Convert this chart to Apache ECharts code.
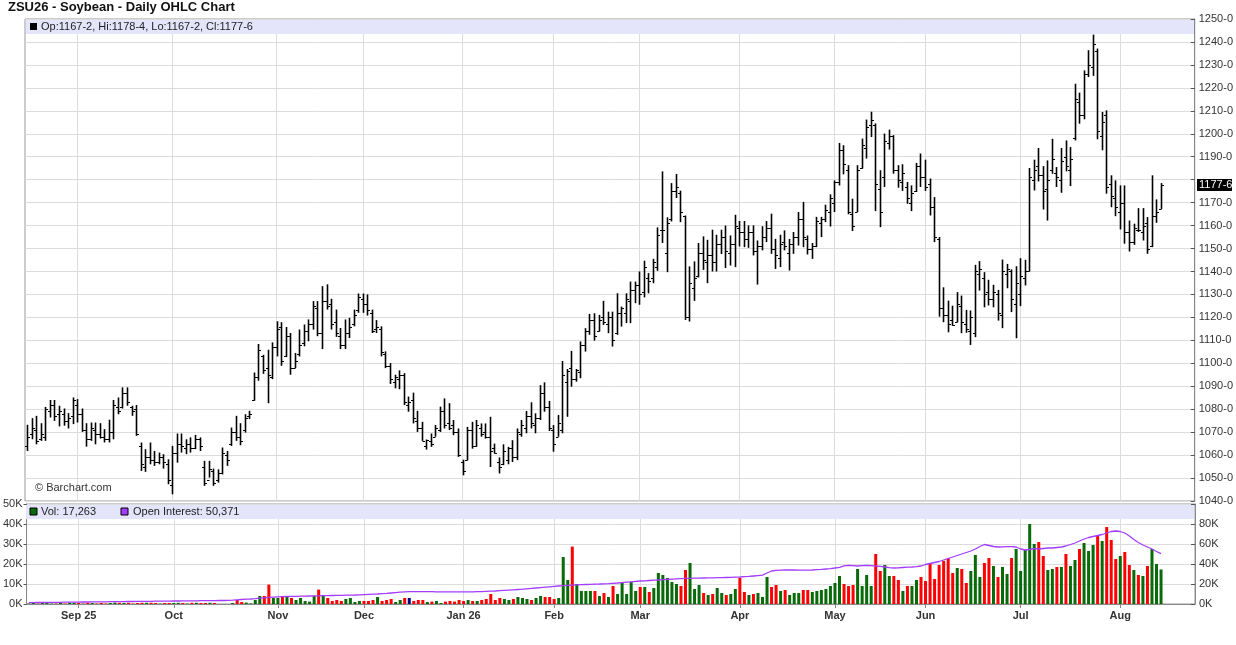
<!DOCTYPE html>
<html><head><meta charset="utf-8">
<script src="https://cdn.jsdelivr.net/npm/echarts@6/dist/echarts.min.js"></script>
<style>html,body{margin:0;padding:0;background:#fff}#c{width:1236px;height:645px}</style>
</head><body><div id="c"></div><script>
// ---- DATA (cents/bushel) ----
const opens = [
1064,1069,1071,1067,1068,1079,1082,1078,1078,1075,
1077,1082,1078,1071,1067,1071,1069,1068,1067,1070,
1081,1081,1087,1081,1080,1064,1055,1059,1058,1057,
1059,1056,1047,1061,1065,1063,1065,1063,1067,1055,
1049,1053,1049,1052,1060,1065,1070,1068,1071,1077,
1084,1094,1103,1098,1094,1107,1116,1103,1112,1098,
1104,1109,1114,1117,1124,1113,1127,1126,1118,1112,
1108,1113,1117,1123,1128,1126,1122,1115,1115,1104,
1099,1092,1093,1095,1082,1084,1075,1072,1064,1066,
1068,1071,1079,1074,1073,1070,1057,1058,1071,1064,
1072,1070,1068,1063,1057,1056,1058,1063,1059,1069,
1072,1077,1073,1076,1087,1081,1071,1068,1071,1092,
1098,1093,1096,1108,1114,1119,1114,1120,1117,1120,
1113,1122,1122,1127,1132,1134,1131,1137,1137,1142,
1158,1148,1163,1175,1174,1164,1120,1133,1138,1148,
1144,1147,1144,1152,1155,1148,1152,1159,1157,1154,
1157,1149,1151,1155,1159,1150,1146,1153,1148,1152,
1155,1163,1154,1150,1151,1161,1163,1166,1170,1179,
1193,1184,1165,1166,1185,1194,1204,1204,1176,1181,
1196,1199,1184,1179,1177,1170,1175,1186,1181,1178,
1168,1154,1124,1121,1119,1118,1125,1117,1114,1113,
1139,1137,1131,1128,1130,1121,1139,1140,1126,1130,
1137,1140,1180,1186,1182,1176,1184,1183,1180,1190,
1184,1198,1214,1208,1226,1229,1236,1199,1208,1178,
1172,1166,1170,1157,1153,1158,1157,1161,1151,1164,
1167.25];
const highs = [
1073.2,1076.1,1077.1,1073.9,1081.0,1084.0,1084.0,1081.5,1080.3,1078.3,
1085.1,1084.4,1080.3,1073.9,1074.2,1074.2,1073.9,1071.3,1075.4,1084.0,
1085.1,1089.5,1089.5,1081.5,1081.8,1065.5,1062.6,1065.5,1061.8,1061.1,
1060.4,1058.2,1064.0,1069.4,1069.4,1066.9,1067.7,1068.8,1067.7,1057.5,
1057.5,1054.1,1053.8,1063.3,1061.8,1072.0,1077.1,1073.9,1077.8,1079.3,
1096.0,1108.4,1103.7,1105.9,1109.1,1118.3,1117.9,1115.8,1113.2,1104.5,
1114.7,1116.9,1119.1,1127.1,1127.1,1133.6,1134.4,1128.1,1123.4,1115.4,
1119.1,1119.8,1123.4,1130.4,1130.4,1130.0,1123.4,1118.8,1116.1,1105.2,
1100.1,1095.0,1096.9,1095.7,1085.5,1087.2,1079.3,1074.5,1066.8,1069.4,
1073.1,1081.1,1084.7,1082.6,1075.3,1071.6,1058.0,1072.3,1074.5,1075.3,
1073.8,1073.8,1076.7,1065.0,1059.0,1064.7,1063.6,1066.5,1071.6,1075.3,
1079.2,1083.0,1078.2,1090.5,1091.7,1083.6,1073.1,1077.5,1101.0,1097.5,
1105.4,1097.5,1109.5,1115.3,1121.5,1121.8,1121.1,1127.2,1122.5,1122.5,
1130.5,1124.7,1130.5,1135.6,1135.6,1140.0,1144.7,1139.3,1145.5,1159.2,
1183.6,1163.6,1178.5,1182.5,1175.2,1164.4,1142.2,1144.4,1152.4,1155.3,
1153.8,1158.2,1156.0,1158.2,1160.0,1155.7,1164.7,1162.0,1162.0,1160.1,
1160.1,1153.5,1159.7,1162.0,1165.2,1154.2,1156.0,1157.9,1154.2,1157.2,
1165.9,1170.3,1155.7,1152.4,1163.8,1163.8,1169.1,1173.6,1179.7,1196.0,
1195.0,1186.3,1171.7,1186.3,1197.9,1206.2,1209.6,1204.5,1184.1,1200.1,
1201.8,1199.4,1186.3,1186.7,1179.0,1177.5,1187.3,1191.4,1188.7,1180.5,
1172.4,1155.0,1133.1,1127.3,1125.1,1131.0,1129.5,1123.3,1123.0,1142.9,
1144.5,1139.7,1136.4,1134.2,1132.0,1145.2,1143.3,1140.9,1142.3,1145.8,
1145.1,1185.1,1188.7,1193.8,1185.9,1188.4,1197.8,1185.5,1193.8,1197.1,
1194.2,1221.8,1217.9,1227.6,1236.4,1243.2,1237.1,1209.5,1210.2,1181.9,
1179.7,1177.5,1177.5,1162.2,1160.8,1167.6,1167.6,1163.7,1181.9,1171.4,
1178.5];
const lows = [
1061.8,1066.9,1064.7,1066.2,1066.2,1076.4,1074.9,1072.5,1072.8,1071.6,
1073.5,1074.2,1070.1,1063.7,1066.2,1064.7,1067.2,1065.5,1065.5,1066.9,
1077.8,1080.3,1081.5,1077.1,1068.4,1053.1,1052.7,1056.0,1055.3,1056.0,
1054.1,1047.3,1042.9,1056.7,1061.1,1060.4,1061.1,1062.6,1061.8,1046.6,
1050.2,1046.6,1048.0,1051.6,1055.3,1064.0,1066.2,1064.3,1069.8,1075.7,
1083.7,1092.4,1095.4,1082.6,1093.1,1103.0,1098.9,1102.7,1095.0,1097.9,
1103.0,1107.4,1109.6,1114.7,1111.8,1106.2,1123.4,1114.7,1111.5,1106.2,
1106.2,1111.0,1116.1,1122.0,1122.0,1120.8,1113.2,1113.2,1103.0,1097.9,
1091.0,1089.1,1088.7,1081.8,1078.9,1073.8,1070.1,1066.2,1062.4,1063.6,
1068.0,1070.1,1071.6,1070.9,1068.7,1059.2,1051.2,1057.7,1062.8,1063.6,
1068.0,1067.2,1054.8,1060.7,1052.0,1055.6,1056.0,1057.0,1057.8,1068.0,
1069.5,1071.6,1069.5,1075.3,1078.9,1070.5,1061.5,1068.0,1069.5,1076.7,
1089.8,1092.0,1093.5,1105.1,1112.4,1109.9,1113.8,1116.7,1113.1,1107.3,
1112.4,1116.0,1117.5,1117.5,1126.2,1125.5,1128.7,1130.5,1134.9,1140.3,
1152.4,1139.7,1161.8,1172.0,1161.5,1118.9,1118.2,1127.2,1137.4,1140.7,
1134.9,1140.0,1140.0,1147.6,1141.5,1142.6,1141.9,1150.9,1150.6,1150.3,
1147.0,1134.3,1149.2,1152.8,1147.7,1141.1,1141.9,1149.2,1140.4,1147.7,
1151.3,1150.6,1147.4,1145.5,1150.6,1155.0,1161.5,1159.6,1165.9,1177.5,
1182.3,1164.9,1157.6,1165.9,1184.8,1189.2,1198.6,1166.3,1159.3,1176.8,
1193.1,1182.6,1176.5,1175.1,1169.5,1166.3,1174.6,1176.8,1175.1,1164.4,
1152.8,1120.3,1117.9,1113.5,1116.4,1117.9,1113.1,1113.3,1108.0,1111.4,
1131.7,1124.4,1125.2,1124.4,1118.6,1115.3,1132.7,1122.3,1110.9,1124.9,
1133.9,1140.0,1175.3,1179.2,1167.0,1162.2,1182.6,1176.8,1174.3,1183.6,
1177.2,1197.1,1204.4,1206.3,1224.7,1225.2,1197.6,1192.8,1173.9,1168.0,
1164.1,1158.3,1152.1,1148.7,1151.6,1157.2,1153.5,1147.7,1150.6,1161.2,
1167.25];
const closes = [
1068,1072,1066,1069,1080,1082,1077,1079,1075,1076,
1084,1078,1071,1067,1072,1069,1068,1067,1070,1082,
1079,1087,1083,1079,1069,1056,1059,1058,1057,1059,
1057,1049,1061,1065,1064,1065,1063,1067,1064,1048,
1054,1048,1052,1061,1058,1070,1068,1066,1076,1078,
1094,1106,1097,1095,1107,1115,1101,1112,1098,1101,
1108,1114,1117,1125,1113,1127,1125,1117,1113,1108,
1113,1116,1121,1129,1126,1123,1114,1116,1105,1099,
1093,1094,1095,1083,1083,1076,1072,1066.3,1066.6,1065,
1072,1079,1073,1072,1070,1060,1053,1071,1064,1073,
1069,1068,1062,1061,1055,1062,1063,1059,1070,1073,
1077,1074,1076,1087,1081,1072,1065,1074,1095,1096.5,
1093,1097,1108,1114,1119,1112,1119,1118,1120,1110,
1122,1124,1128,1132,1134,1130,1142,1136,1144,1156,
1158,1161,1175,1177,1166,1120,1135,1137,1148,1145,
1147,1144,1152,1155,1149,1152,1160,1157,1154,1157,
1149,1151,1155,1159,1150,1147,1152,1151,1152,1155,
1163,1155,1150,1151,1162,1163,1167,1172,1179,1193,
1187,1166,1160,1184,1195,1203,1206,1178,1166,1197,
1199,1184,1180,1183,1172,1174,1186,1181,1177,1168,
1155,1124,1121,1117,1116.5,1126,1118,1115,1120,1140,
1141,1130,1128,1131,1122,1140,1141,1128,1135,1138,
1140,1181,1184,1182,1175,1180,1189,1181,1188,1186,
1189,1215,1208,1226,1230,1239,1201,1205,1177,1173,
1168,1170,1157,1153,1159,1158,1160,1150,1164,1166,
1177.75];
const volumes = [
200,600,200,600,500,200,200,700,200,600,
600,500,200,600,500,200,500,200,500,700,
600,500,600,200,500,600,600,600,500,200,
500,500,500,600,500,200,600,600,500,500,
600,500,0,0,0,500,2000,1000,700,300,
2000,4000,4000,9700,3000,3000,3500,3500,3000,2000,
3000,1500,1200,4000,7200,4500,3000,1500,2000,1500,
2500,3000,1000,1500,1500,1500,2000,3500,1500,2000,
2500,1000,2000,3000,3000,1500,2000,2000,1000,1200,
1500,500,1200,1500,1200,2000,1500,2000,1500,1500,
2000,2500,5000,2000,3000,2500,2000,2500,3500,3000,
2500,2000,3000,4000,3500,3500,2500,3000,23500,12000,
28700,10000,6500,6500,6500,6500,4000,5500,3500,9000,
5000,10500,5000,11000,6500,8500,8500,6000,8000,15500,
14500,13000,11000,10000,9000,17000,20500,7500,9500,5500,
4500,5000,8000,5500,4500,5000,7500,13000,6000,4500,
5000,5500,3500,13500,8500,9500,6500,7000,4500,5500,
5500,7000,7000,6000,6500,7000,7500,9000,10500,14000,
10000,9000,9500,17500,9000,14500,9000,25000,16500,19500,
14000,14000,12000,6500,9000,9000,12000,13500,11500,20500,
12500,19500,21500,23000,15500,18000,17500,10500,16500,24500,
13500,20500,23000,19000,13500,18500,15000,23000,27500,16500,
27000,40000,30000,31000,24000,17000,17500,18500,18500,25000,
19000,22000,27500,30500,26500,29500,34500,31500,38500,32000,
22500,24000,26000,19500,17000,14500,14000,19000,27500,20000,
17263];
const openInterest = [
1400,1400,1500,1500,1600,1600,1700,1700,1800,1800,1900,
1900,2000,2000,2100,2100,2200,2200,2300,2300,2400,2400,2500,2500,2600,2600,2700,2700,2800,2800,2900,2900,
3000,3000,3100,3100,3200,3200,3300,3300,3400,3400,3500,3500,3600,3800,4200,4500,4800,5000,5300,5800,6200,6600,6900,
7100,7300,7500,7600,7700,7800,7900,8000,8100,8200,8300,8400,8500,8600,8700,8800,8900,9000,9200,
9400,9600,9800,10000,10300,10600,11000,11400,11800,12100,12300,12400,12400,12400,12300,12300,12200,12200,12200,12200,12100,12100,
12100,12100,12200,12300,12400,12600,12800,13000,13300,13600,13900,14200,14500,14800,15200,15600,16000,16400,16800,17200,
17600,18000,18300,18600,18900,19100,19300,19500,19700,19900,20000,20200,20400,20700,21000,21400,21800,22200,22600,
23000,23200,23500,23800,24000,24300,24600,24900,25200,25400,25600,25700,25800,25900,26000,26100,26200,26300,26400,26500,26600,26800,
27000,27300,27600,28000,28400,28800,31000,33000,33600,33800,34000,34000,34000,33900,33800,33800,34000,34300,34600,35000,35400,
36000,36600,38200,38600,38300,38000,38300,38600,38400,38000,37600,37000,36400,36000,36200,36500,36800,37000,37300,38000,
39500,40500,41500,42500,44000,45500,47000,48500,50000,51500,53000,55000,57500,59500,58500,57500,57000,57200,57300,57300,57000,
55000,54000,54500,55500,55000,55500,56000,56000,56500,57000,58000,59500,61000,63000,65000,66500,67500,68500,69500,71000,72500,73000,
72500,71000,68000,64500,61500,59000,57000,55000,52500,50371];

// trading calendar (categories)
const START_DATE = [2025, 7, 15];           // Aug 15, 2025
const HOLIDAYS = ['2025-09-01','2025-11-27','2025-12-25','2026-01-01','2026-01-19',
  '2026-02-16','2026-04-03','2026-05-25','2026-06-19','2026-07-03'];
const PAD_DAYS = 7;                          // empty space right of last bar
const MONTHS = ['Jan','Feb','Mar','Apr','May','Jun','Jul','Aug','Sep','Oct','Nov','Dec'];
const TITLE = 'ZSU26 - Soybean - Daily OHLC Chart';

function tradingDays(n) {
  const out = [];
  const d = new Date(Date.UTC(START_DATE[0], START_DATE[1], START_DATE[2]));
  while (out.length < n) {
    const s = d.toISOString().slice(0, 10);
    const wd = d.getUTCDay();
    if (wd !== 0 && wd !== 6 && HOLIDAYS.indexOf(s) < 0) out.push(s);
    d.setUTCDate(d.getUTCDate() + 1);
  }
  return out;
}
const dates = tradingDays(opens.length + PAD_DAYS);
const isMonthStart = dates.map((d, i) => i > 0 && d.slice(0, 7) !== dates[i - 1].slice(0, 7));
const firstMonthIdx = isMonthStart.indexOf(true);
function monthLabel(d, i) {
  const m = +d.slice(5, 7) - 1;
  const yy = d.slice(2, 4);
  return (i === firstMonthIdx || m === 0) ? MONTHS[m] + ' ' + yy : MONTHS[m];
}
const monthInterval = (i) => isMonthStart[i];

function fmtPrice(v) {
  const w = Math.floor(v + 1e-9);
  return w + '-' + Math.round((v - w) * 8);
}
function fmtInt(v) { return String(v).replace(/\B(?=(\d{3})+(?!\d))/g, ','); }

const GREEN = '#086a08', RED = '#ff0000', NAVY = '#000080', PURPLE = '#a33cff';
function volColor(i) {
  if (i === 0) return GREEN;
  if (closes[i] > closes[i - 1]) return GREEN;
  if (closes[i] < closes[i - 1]) return RED;
  return NAVY;
}

const ohlcData = opens.map((o, i) => [i, o, highs[i], lows[i], closes[i]]);
const volData = volumes.map((v, i) => ({ value: v, itemStyle: { color: volColor(i) } }));
const last = opens.length - 1;

function renderOHLC(params, api) {
  const i = api.value(0);
  const pO = api.coord([i, api.value(1)]);
  const pH = api.coord([i, api.value(2)]);
  const pL = api.coord([i, api.value(3)]);
  const pC = api.coord([i, api.value(4)]);
  const x = Math.round(pH[0]) + 0.5;
  const yo = Math.round(pO[1]) + 0.5, yc = Math.round(pC[1]) + 0.5;
  return { type: 'group', children: [
    { type: 'line', shape: { x1: x, y1: pH[1], x2: x, y2: pL[1] }, style: { stroke: '#000', lineWidth: 1.6 } },
    { type: 'line', shape: { x1: x - 2.5, y1: yo, x2: x, y2: yo }, style: { stroke: '#000', lineWidth: 1 } },
    { type: 'line', shape: { x1: x, y1: yc, x2: x + 2.5, y2: yc }, style: { stroke: '#000', lineWidth: 1 } }
  ]};
}

const FONT = 'Liberation Sans, Arial, sans-serif';
const chart = echarts.init(document.getElementById('c'), null, { renderer: 'canvas' });
const gridLine = { show: true, lineStyle: { color: '#dcdcdc', width: 1 } };

chart.setOption({
  animation: false,
  backgroundColor: '#fff',
  textStyle: { fontFamily: FONT },
  grid: [
    { left: 25, top: 19, width: 1170, height: 482, show: true, borderColor: '#999', borderWidth: 1, backgroundColor: '#fff' },
    { left: 25, top: 504, width: 1170, height: 100, show: true, borderColor: '#999', borderWidth: 1, backgroundColor: '#fff' }
  ],
  xAxis: [
    { type: 'category', gridIndex: 0, data: dates, boundaryGap: true,
      axisLine: { show: false }, axisTick: { show: false }, axisLabel: { show: false },
      splitLine: { show: true, interval: monthInterval, alignWithLabel: true, lineStyle: { color: '#dcdcdc' } } },
    { type: 'category', gridIndex: 1, data: dates, boundaryGap: true,
      axisLine: { show: true, lineStyle: { color: '#888' } },
      axisTick: { show: true, interval: monthInterval, alignWithLabel: true, length: 4, lineStyle: { color: '#888' } },
      axisLabel: { show: true, interval: monthInterval, formatter: monthLabel, fontFamily: FONT,
        fontSize: 11, fontWeight: 'bold', color: '#333', margin: 6 },
      splitLine: { show: true, interval: monthInterval, alignWithLabel: true, lineStyle: { color: '#dcdcdc' } } }
  ],
  yAxis: [
    { type: 'value', gridIndex: 0, position: 'right', min: 1040, max: 1250, interval: 10,
      axisLine: { show: true, lineStyle: { color: '#888' } },
      axisTick: { show: true, inside: true, length: 4, lineStyle: { color: '#555' } },
      axisLabel: { formatter: v => Math.abs(v - closes[last]) < 5 ? '' : fmtPrice(v),
        fontFamily: FONT, fontSize: 11, color: '#333', margin: 4 },
      splitLine: gridLine },
    { type: 'value', gridIndex: 1, position: 'left', min: 0, max: 50000, interval: 10000,
      axisLine: { show: true, lineStyle: { color: '#888' } },
      axisTick: { show: true, length: 3, lineStyle: { color: '#555' } },
      axisLabel: { formatter: v => (v / 1000) + 'K', fontFamily: FONT, fontSize: 11, color: '#333', margin: 4 },
      splitLine: gridLine },
    { type: 'value', gridIndex: 1, position: 'right', min: 0, max: 100000, interval: 20000,
      axisLine: { show: true, lineStyle: { color: '#888' } },
      axisTick: { show: true, inside: true, length: 4, lineStyle: { color: '#555' } },
      axisLabel: { formatter: v => v >= 100000 ? '' : (v / 1000) + 'K', fontFamily: FONT, fontSize: 11, color: '#333', margin: 4 },
      splitLine: { show: false } }
  ],
  series: [
    { type: 'custom', name: 'OHLC', xAxisIndex: 0, yAxisIndex: 0, data: ohlcData,
      encode: { x: 0, y: [1, 2, 3, 4] }, renderItem: renderOHLC, z: 3, silent: true },
    { type: 'bar', name: 'Vol', xAxisIndex: 1, yAxisIndex: 1, data: volData, barWidth: 3, z: 2, silent: true },
    { type: 'line', name: 'Open Interest', xAxisIndex: 1, yAxisIndex: 2, data: openInterest,
      symbol: 'none', lineStyle: { color: PURPLE, width: 1.3 }, z: 4, silent: true }
  ]
});

const yLast = chart.convertToPixel({ yAxisIndex: 0 }, closes[last]);
const header = 'Op:' + fmtPrice(opens[last]) + ', Hi:' + fmtPrice(highs[last]) +
  ', Lo:' + fmtPrice(lows[last]) + ', Cl:' + fmtPrice(closes[last]);

chart.setOption({
  graphic: [
    { type: 'text', left: 8, top: 1, z: 20, style: { text: TITLE, font: 'bold 13px ' + FONT, fill: '#111' } },
    { type: 'rect', shape: { x: 26, y: 20, width: 1168, height: 14 }, z: 20, style: { fill: '#e4e4fa' } },
    { type: 'rect', shape: { x: 30, y: 23, width: 7, height: 7 }, z: 21, style: { fill: '#000' } },
    { type: 'text', x: 41, y: 27, z: 21, style: { text: header, font: '11px ' + FONT, fill: '#222', verticalAlign: 'middle' } },
    { type: 'rect', shape: { x: 26, y: 505, width: 1168, height: 14 }, z: 20, style: { fill: '#e4e4fa' } },
    { type: 'rect', shape: { x: 30, y: 508, width: 7, height: 7 }, z: 21, style: { fill: GREEN, stroke: '#000', lineWidth: 1 } },
    { type: 'text', x: 41, y: 512, z: 21, style: { text: 'Vol: ' + fmtInt(volumes[last]), font: '11px ' + FONT, fill: '#222', verticalAlign: 'middle' } },
    { type: 'rect', shape: { x: 121, y: 508, width: 7, height: 7 }, z: 21, style: { fill: PURPLE, stroke: '#000', lineWidth: 1 } },
    { type: 'text', x: 133, y: 512, z: 21, style: { text: 'Open Interest: ' + fmtInt(openInterest[last]), font: '11px ' + FONT, fill: '#222', verticalAlign: 'middle' } },
    { type: 'text', x: 35, y: 488, z: 21, style: { text: '\u00A9 Barchart.com', font: '11px ' + FONT, fill: '#333', verticalAlign: 'middle' } },
    { type: 'rect', shape: { x: 1197, y: Math.round(yLast) - 6, width: 35, height: 12 }, z: 22, style: { fill: '#000' } },
    { type: 'text', x: 1199, y: Math.round(yLast), z: 23, style: { text: fmtPrice(closes[last]), font: '11px ' + FONT, fill: '#fff', verticalAlign: 'middle' } }
  ]
});
</script></body></html>
